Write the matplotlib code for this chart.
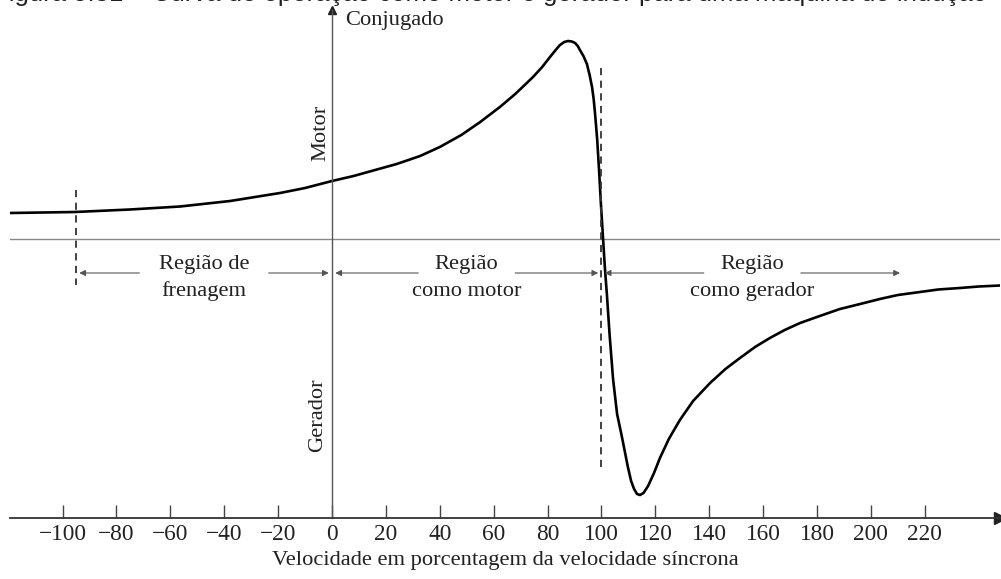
import matplotlib
matplotlib.use("Agg")
import matplotlib.pyplot as plt

# Curva conjugado x velocidade (conjugado em unidades arbitrárias)
velocidade = [-119.5, -95.4, -75.0, -56.4, -37.8, -19.3, -10.0, 0.0, 8.0, 16.0,
              24.0, 32.7, 40.0, 48.0, 55.0, 62.3, 68.0, 74.6, 78.0, 80.9,
              83.0, 84.6, 86.2, 87.6, 89.0, 90.2, 91.2, 92.0, 93.3, 94.6,
              95.6, 96.5, 97.1, 97.6, 98.4, 99.1, 99.8, 100.6, 101.3, 102.0,
              103.0, 104.3, 105.8, 107.6, 109.8, 111.0, 112.1, 113.2, 114.3, 115.6,
              117.3, 119.5, 121.7, 125.0, 129.1, 134.0, 140.3, 146.0, 151.4, 157.0,
              162.5, 168.0, 173.7, 181.0, 188.5, 196.0, 203.3, 210.0, 218.2, 225.0,
              233.0, 240.0, 247.9]
conjugado = [0.26, 0.27, 0.295, 0.325, 0.38, 0.46, 0.51, 0.58, 0.63, 0.69,
             0.75, 0.83, 0.92, 1.04, 1.17, 1.32, 1.45, 1.62, 1.72, 1.82,
             1.89, 1.94, 1.97, 1.98, 1.975, 1.96, 1.93, 1.89, 1.83, 1.75,
             1.64, 1.52, 1.40, 1.26, 1.00, 0.69, 0.35, 0.00, -0.30, -0.55,
             -0.95, -1.40, -1.75, -1.98, -2.28, -2.42, -2.50, -2.55, -2.56, -2.54,
             -2.47, -2.34, -2.19, -2.00, -1.81, -1.62, -1.44, -1.30, -1.19, -1.08,
             -0.99, -0.91, -0.84, -0.77, -0.70, -0.65, -0.60, -0.56, -0.53, -0.505,
             -0.49, -0.475, -0.465]

ticks = [-100, -80, -60, -40, -20, 0, 20, 40, 60, 80, 100, 120, 140, 160, 180, 200, 220]
tick_labels = ["\u2212100", "\u221280", "\u221260", "\u221240", "\u221220", "0", "20", "40",
               "60", "80", "100", "120", "140", "160", "180", "200", "220"]

# regiões (início, fim) e rótulos
regioes = [(-95, 0), (0, 100), (100, 212)]
rotulos = [("Região de", "frenagem"), ("Região", "como motor"), ("Região", "como gerador")]

serif = "Liberation Serif"
fs = 16.2
cor_txt = "#222222"

fig = plt.figure(figsize=(10.01, 5.79), dpi=100)
ax = fig.add_axes([10 / 1001, 61 / 579, 990 / 1001, 508 / 579])
ax.set_xlim(-119.5, 247.9)
ax.set_ylim(-2.79, 2.29)

# eixos
for s in ["top", "right"]:
    ax.spines[s].set_visible(False)
ax.spines["left"].set_position(("data", 0))
ax.spines["left"].set_color("#555555")
ax.spines["left"].set_linewidth(1.0)
ax.spines["bottom"].set_color("#333333")
ax.spines["bottom"].set_linewidth(1.3)
ax.set_yticks([])
ax.set_xticks(ticks, tick_labels, fontfamily=serif, fontsize=16.8, color=cor_txt)
ax.tick_params(axis="x", direction="in", length=9.5, width=1.0, color="#444444", pad=4)
ax.plot(1, 0, ">", color="#222222", ms=8, transform=ax.transAxes, clip_on=False)
ax.plot(0, 1, "^", color="#222222", ms=6, transform=ax.get_xaxis_transform(), clip_on=False)

# linha de conjugado zero
ax.axhline(0, color="#888888", lw=1.0)

# curva
ax.plot(velocidade, conjugado, color="black", lw=1.9, solid_capstyle="round", solid_joinstyle="round")

# linhas tracejadas
ax.plot([-95, -95], [0.49, -0.46], color="#333333", lw=1.3, dashes=(4, 3))
ax.plot([100, 100], [1.71, -2.29], color="#333333", lw=1.3, dashes=(4, 3))

# setas e rótulos das regiões
ya = -0.34
for (x0, x1), (l1, l2) in zip(regioes, rotulos):
    xc = (x0 + x1) / 2
    half = 24 if l1 == "Região de" else 18
    ax.annotate("", xy=(x0 + 1.2, ya), xytext=(xc - half, ya),
                arrowprops=dict(arrowstyle="-|>", color="#555555", lw=0.8,
                                mutation_scale=9, shrinkA=0, shrinkB=0))
    ax.annotate("", xy=(x1 - 1.2, ya), xytext=(xc + half, ya),
                arrowprops=dict(arrowstyle="-|>", color="#555555", lw=0.8,
                                mutation_scale=9, shrinkA=0, shrinkB=0))
    ax.text(xc, -0.25, l1, ha="center", va="center", fontfamily=serif, fontsize=fs, color=cor_txt)
    ax.text(xc, -0.52, l2, ha="center", va="center", fontfamily=serif, fontsize=fs, color=cor_txt)

ax.text(4.8, 2.19, "Conjugado", ha="left", va="center", fontfamily=serif, fontsize=fs, color=cor_txt)
ax.text(-4.1, 1.06, "Motor", rotation=90, ha="center", va="center", fontfamily=serif, fontsize=fs, color=cor_txt)
ax.text(-5.2, -1.76, "Gerador", rotation=90, ha="center", va="center", fontfamily=serif, fontsize=fs, color=cor_txt)
ax.set_xlabel("Velocidade em porcentagem da velocidade síncrona", fontfamily=serif, fontsize=fs,
              color=cor_txt, labelpad=5)

# título cortado no topo, como na figura original
fig.text(0.49, 1.0 + 6 / 579, "Figura 5.31 – Curva de operação como motor e gerador para uma máquina de indução",
         ha="center", va="center", fontfamily="Liberation Sans", fontsize=18.5, color=cor_txt)

fig.savefig("out.png", dpi=100)
